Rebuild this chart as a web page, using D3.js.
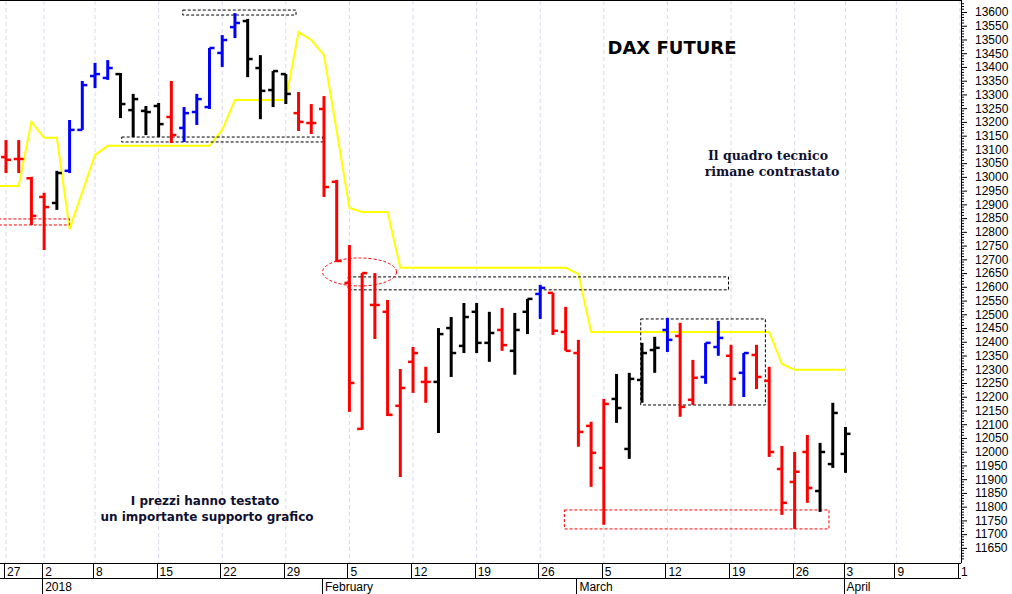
<!DOCTYPE html>
<html>
<head>
<meta charset="utf-8">
<script src="https://cdn.jsdelivr.net/npm/d3@7"></script>
<style>
  body { margin: 0; background: #fff; }
  svg { display: block; }
</style>
</head>
<body>
<div id="chart"></div>
<script>
// trading days, Dec 27 2017 .. Apr 3 2018
const dates = [
  "2017-12-27","2017-12-28","2017-12-29",
  "2018-01-02","2018-01-03","2018-01-04","2018-01-05",
  "2018-01-08","2018-01-09","2018-01-10","2018-01-11","2018-01-12",
  "2018-01-15","2018-01-16","2018-01-17","2018-01-18","2018-01-19",
  "2018-01-22","2018-01-23","2018-01-24","2018-01-25","2018-01-26",
  "2018-01-29","2018-01-30","2018-01-31","2018-02-01","2018-02-02",
  "2018-02-05","2018-02-06","2018-02-07","2018-02-08","2018-02-09",
  "2018-02-12","2018-02-13","2018-02-14","2018-02-15","2018-02-16",
  "2018-02-19","2018-02-20","2018-02-21","2018-02-22","2018-02-23",
  "2018-02-26","2018-02-27","2018-02-28","2018-03-01","2018-03-02",
  "2018-03-05","2018-03-06","2018-03-07","2018-03-08","2018-03-09",
  "2018-03-12","2018-03-13","2018-03-14","2018-03-15","2018-03-16",
  "2018-03-19","2018-03-20","2018-03-21","2018-03-22","2018-03-23",
  "2018-03-26","2018-03-27","2018-03-28","2018-03-29","2018-04-03"
];
const opens  = [13072,13065,12995,12927,12905,13022,13171,13367,13360,13374,13243,13240,13258,13218,13178,13236,13254,13451,13545,13567,13396,13316,13374,13232,13196,13247,12982,12614,12083,12534,12509,12167,12327,12254,12254,12450,12385,12509,12396,12443,12367,12509,12574,12578,12436,12359,12094,11941,12192,12010,12261,12370,12443,12421,12189,12272,12381,12349,12287,12352,12258,11937,11890,11999,11857,11955,11992];
const highs  = [13134,13134,13000,12942,13022,13207,13349,13415,13425,13378,13302,13258,13269,13349,13254,13302,13469,13516,13596,13575,13443,13385,13374,13309,13265,13294,12989,12752,12650,12650,12552,12301,12381,12309,12450,12490,12541,12541,12509,12523,12505,12556,12607,12578,12527,12407,12109,12192,12283,12287,12396,12418,12487,12469,12334,12396,12476,12389,12359,12389,12309,12021,11999,12061,12032,12178,12090];
const lows   = [13014,13014,12825,12734,12880,13014,13171,13323,13353,13214,13145,13152,13145,13123,13127,13189,13247,13400,13505,13363,13210,13254,13265,13167,13156,12927,12691,12145,12080,12410,12130,11908,12214,12178,12068,12272,12359,12359,12327,12367,12280,12428,12483,12425,12367,12018,11872,11734,12105,11974,12178,12287,12363,12127,12170,12247,12349,12167,12199,12228,11981,11770,11719,11814,11781,11941,11923];
const closes = [13062,13065,12858,12890,13014,13171,13334,13374,13396,13265,13283,13236,13192,13152,13232,13283,13469,13498,13560,13429,13313,13385,13302,13200,13196,12963,12694,12250,12650,12534,12134,12232,12359,12254,12428,12359,12490,12396,12432,12388,12443,12556,12596,12440,12367,12072,11996,12174,12159,12265,12359,12378,12407,12163,12269,12396,12414,12265,12359,12272,11999,11814,11927,11868,11999,12141,12065];
// bar colour codes: r = red, b = blue, k = black
const colorCodes = "rrrrkbbbbkkkkrbbbbbkkkkrrrrrrrrrrrkkkkkrkkbrrrrrkkkkbrrbbrbrrrrrkkk";
// yellow line, by bar index
const yellowIdx = [-1,0,1,2,3,4,5,6,7,8,16,17,18,22,23,24,25,26,27,28,30,31,44,45,46,60,61,62,66];
const yellowVal = [12967,12967,12967,13200,13142,13142,12811,12945,13080,13113,13113,13171,13280,13280,13527,13498,13443,13167,12887,12872,12872,12669,12669,12647,12436,12436,12319,12298,12298];

// week tick labels (index of first trading day of each week)
const weekIdx = [0,3,7,12,17,22,27,32,37,42,47,52,57,62,66,70,75];
const weekLabels = ["27","2","8","15","22","29","5","12","19","26","5","12","19","26","3","9","1"];
const monthIdx = [3,25,45,66];
const monthLabels = ["2018","February","March","April"];

// annotation boxes [i0, i1, v0, v1, colour]
const boxes = [
  [13.9, 22.8, 13607, 13589, "#000"],
  [9.1, 24.9, 13145, 13127, "#000"],
  [-0.6, 5.0, 12847, 12825, "#f00"],
  [26.9, 56.8, 12636, 12589, "#000"],
  [49.9, 59.7, 12483, 12170, "#000"],
  [43.9, 64.7, 11788, 11719, "#f00"]
];

const W = 1012, H = 594;
const plotR = 961, plotB = 563, plotT = 1;
const x = d3.scaleLinear().domain([-0.47, 75]).range([0, 960]);
const y = d3.scaleLinear().domain([11595, 13640]).range([plotB, plotT]);
const colMap = { r: "#ff0000", b: "#0000ff", k: "#000000" };

const svg = d3.select("#chart").append("svg").attr("width", W).attr("height", H);

const clip = svg.append("clipPath").attr("id", "plot")
  .append("rect").attr("x", 0).attr("y", plotT).attr("width", plotR).attr("height", plotB - plotT);

// vertical grid
svg.append("g").selectAll("line").data(weekIdx).join("line")
  .attr("x1", d => x(d)).attr("x2", d => x(d))
  .attr("y1", plotT).attr("y2", plotB)
  .attr("stroke", "#d8d8f0").attr("stroke-dasharray", "4,3");

const g = svg.append("g").attr("clip-path", "url(#plot)");

// yellow line
g.append("path")
  .datum(yellowIdx.map((d, i) => [d, yellowVal[i]]))
  .attr("fill", "none").attr("stroke", "#ffff00").attr("stroke-width", 2)
  .attr("d", d3.line().x(d => x(d[0])).y(d => y(d[1])));

// dashed boxes
g.selectAll("rect.box").data(boxes).join("rect")
  .attr("x", d => x(d[0])).attr("width", d => x(d[1]) - x(d[0]))
  .attr("y", d => y(d[2])).attr("height", d => y(d[3]) - y(d[2]))
  .attr("fill", "none").attr("stroke", d => d[4]).attr("stroke-dasharray", "3,2");

// dashed ellipse
g.append("ellipse")
  .attr("cx", x(27.8)).attr("cy", y(12654))
  .attr("rx", 37).attr("ry", 14)
  .attr("fill", "none").attr("stroke", "#f00").attr("stroke-dasharray", "3,2");

// OHLC bars
const bars = g.append("g").selectAll("g").data(dates).join("g")
  .attr("stroke", (d, i) => colMap[colorCodes[i]]).attr("stroke-width", 3);
bars.append("line")
  .attr("x1", (d, i) => x(i)).attr("x2", (d, i) => x(i))
  .attr("y1", (d, i) => y(highs[i])).attr("y2", (d, i) => y(lows[i]));
bars.append("line")
  .attr("x1", (d, i) => x(i) - 5).attr("x2", (d, i) => x(i))
  .attr("y1", (d, i) => y(opens[i])).attr("y2", (d, i) => y(opens[i]))
  .attr("stroke-width", 2.5);
bars.append("line")
  .attr("x1", (d, i) => x(i)).attr("x2", (d, i) => x(i) + 5)
  .attr("y1", (d, i) => y(closes[i])).attr("y2", (d, i) => y(closes[i]))
  .attr("stroke-width", 2.5);

// frame
svg.append("line").attr("x1", 0).attr("x2", plotR).attr("y1", 0.5).attr("y2", 0.5).attr("stroke", "#000");

// right axis
const yAxis = d3.axisRight(y).tickValues(d3.range(11650, 13601, 50)).tickSize(6).tickFormat(d3.format("d"));
const ya = svg.append("g").attr("transform", `translate(${plotR},0)`).call(yAxis);
ya.select(".domain").attr("d", `M0.5,0V${plotB}`);
ya.selectAll("text").attr("x", 14).attr("font-family", "Liberation Sans, Arial, sans-serif").attr("font-size", 12);
svg.append("g").attr("transform", `translate(${plotR},0)`).selectAll("line")
  .data(d3.range(11600, 13640, 10).filter(v => v % 50 !== 0)).join("line")
  .attr("x1", 0).attr("x2", 3).attr("y1", d => y(d)).attr("y2", d => y(d)).attr("stroke", "#000");

// bottom axis bands
const ax = svg.append("g").attr("font-family", "Liberation Sans, Arial, sans-serif").attr("font-size", 12);
ax.append("line").attr("x1", 0).attr("x2", plotR).attr("y1", plotB + 0.5).attr("y2", plotB + 0.5).attr("stroke", "#000");
ax.append("line").attr("x1", 0).attr("x2", plotR).attr("y1", 578.5).attr("y2", 578.5).attr("stroke", "#000");
ax.selectAll("line.w").data(weekIdx).join("line")
  .attr("x1", d => Math.round(x(d)) - 1.5).attr("x2", d => Math.round(x(d)) - 1.5)
  .attr("y1", plotB).attr("y2", 578).attr("stroke", "#000");
ax.selectAll("text.w").data(weekIdx).join("text")
  .attr("x", d => x(d) + 1).attr("y", 576).text((d, i) => weekLabels[i]);
ax.selectAll("line.m").data(monthIdx).join("line")
  .attr("x1", d => Math.round(x(d)) - 1.5).attr("x2", d => Math.round(x(d)) - 1.5)
  .attr("y1", 578).attr("y2", H).attr("stroke", "#000");
ax.selectAll("text.m").data(monthIdx).join("text")
  .attr("x", d => x(d) + 1).attr("y", 591).text((d, i) => monthLabels[i]);

// annotations
svg.append("text").attr("x", 672).attr("y", 54).attr("text-anchor", "middle")
  .attr("font-family", "DejaVu Sans, Verdana, sans-serif").attr("font-weight", "bold").attr("font-size", 18)
  .text("DAX FUTURE");
const t1 = svg.append("text").attr("font-family", "DejaVu Serif, serif").attr("font-weight", "bold")
  .attr("font-size", 12.5).attr("fill", "#101030").attr("text-anchor", "middle");
t1.append("tspan").attr("x", 768).attr("y", 160).text("Il quadro tecnico");
t1.append("tspan").attr("x", 772).attr("y", 176).text("rimane contrastato");
const t2 = svg.append("text").attr("font-family", "DejaVu Sans, Verdana, sans-serif").attr("font-weight", "bold")
  .attr("font-size", 12).attr("fill", "#101030").attr("text-anchor", "middle");
t2.append("tspan").attr("x", 205).attr("y", 505).text("I prezzi hanno testato");
t2.append("tspan").attr("x", 207).attr("y", 521).text("un importante supporto grafico");
</script>
</body>
</html>
